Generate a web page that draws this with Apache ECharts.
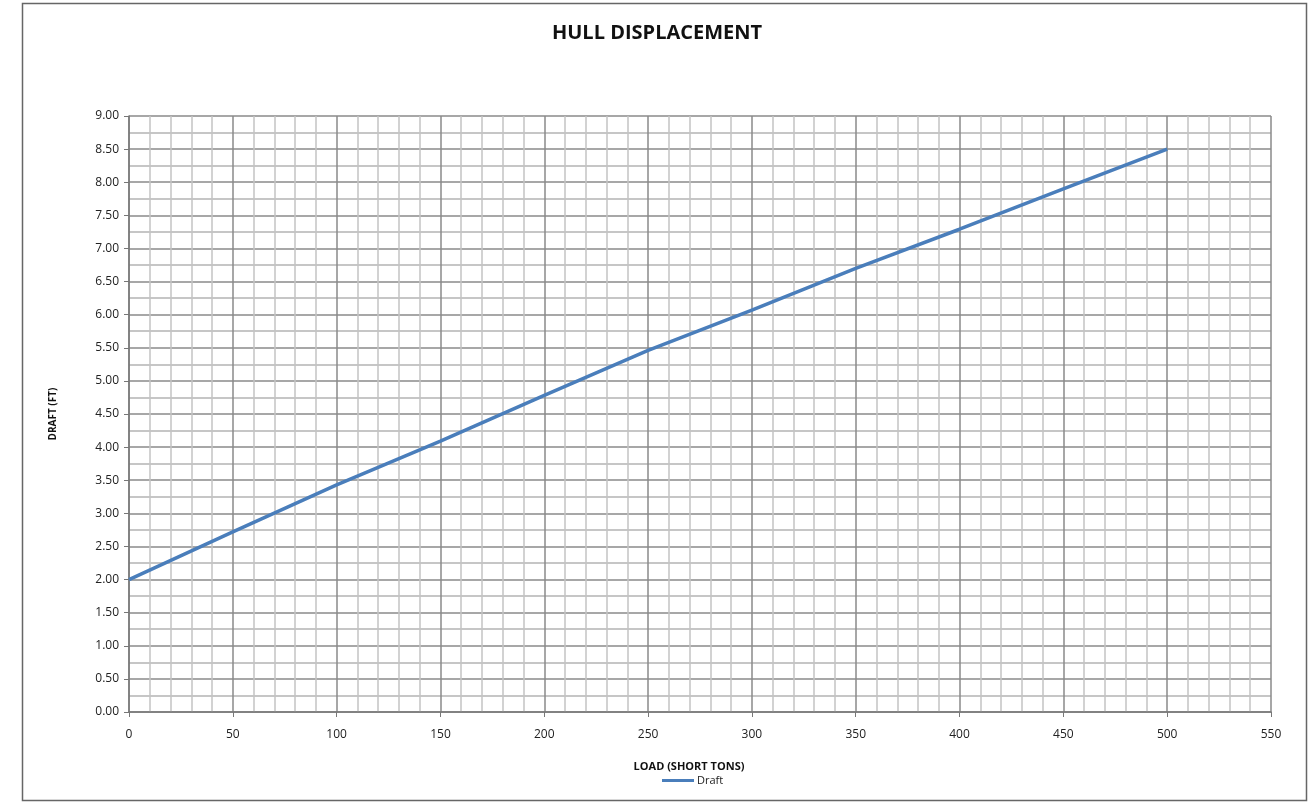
<html>
    <head>
        <meta charset="utf-8">
        <script src='https://cdn.jsdelivr.net/npm/echarts@6/dist/echarts.min.js'></script>
    </head>
    <body>
        <style>
            html, body, #main {
                width: 100%;
                height: 100%;
                margin: 0;
                background: #fff;
            }
        </style>
        <div id='main'></div>
        <script>
            // load (short tons) vs draft (ft)
            var loads = [0, 50, 100, 150, 200, 250, 300, 350, 400, 450, 500];
            var drafts = [2.00, 2.72, 3.43, 4.09, 4.78, 5.46, 6.07, 6.70, 7.29, 7.90, 8.50];

            var chart = echarts.init(document.getElementById('main'));

            var font = '"Open Sans", "Liberation Sans", sans-serif';
            var data = loads.map(function (x, i) {
                return [x, drafts[i]];
            });

            var option = {
                backgroundColor: '#fff',
                animation: false,
                title: {
                    text: 'HULL DISPLACEMENT',
                    left: 'center',
                    top: 18,
                    textStyle: {
                        fontFamily: font,
                        fontSize: 20,
                        fontWeight: 'bold',
                        color: '#111'
                    }
                },
                legend: {
                    data: ['Draft'],
                    bottom: 12,
                    left: 657,
                    itemWidth: 32,
                    itemHeight: 3,
                    icon: 'rect',
                    itemGap: 4,
                    textStyle: {
                        fontFamily: font,
                        fontSize: 11,
                        color: '#222',
                        padding: [0, 0, 0, -2]
                    }
                },
                graphic: [{
                    type: 'rect',
                    shape: { x: 22.5, y: 3.5, width: 1284, height: 797 },
                    style: { fill: null, stroke: '#666', lineWidth: 1.5 },
                    silent: true
                }],
                grid: {
                    left: 129,
                    top: 116,
                    right: 43,
                    bottom: 91
                },
                xAxis: {
                    type: 'value',
                    min: 0,
                    max: 550,
                    interval: 50,
                    name: 'LOAD (SHORT TONS)',
                    nameLocation: 'middle',
                    nameGap: 49,
                    nameTextStyle: {
                        fontFamily: font,
                        fontSize: 11,
                        fontWeight: 'bold',
                        color: '#111',
                        padding: [0, 22, 0, 0]
                    },
                    axisLine: { lineStyle: { color: '#777', width: 1.5 } },
                    axisTick: { show: true, length: 5, lineStyle: { color: '#777' } },
                    axisLabel: {
                        margin: 17,
                        fontFamily: font,
                        fontSize: 12,
                        color: '#222'
                    },
                    splitLine: { lineStyle: { color: '#8a8a8a', width: 1.5 } },
                    minorTick: { show: false, splitNumber: 5 },
                    minorSplitLine: { show: true, lineStyle: { color: '#c4c4c4', width: 1.5 } }
                },
                yAxis: {
                    type: 'value',
                    min: 0,
                    max: 9,
                    interval: 0.5,
                    name: 'DRAFT (FT)',
                    nameLocation: 'middle',
                    nameGap: 71,
                    nameTextStyle: {
                        fontFamily: font,
                        fontSize: 10,
                        fontWeight: 'bold',
                        color: '#111'
                    },
                    axisLine: { show: true, lineStyle: { color: '#777', width: 1.5 } },
                    axisTick: { show: true, length: 5, lineStyle: { color: '#777' } },
                    axisLabel: {
                        margin: 10,
                        fontFamily: font,
                        fontSize: 12,
                        color: '#222',
                        formatter: function (v) { return v.toFixed(2); }
                    },
                    splitLine: { lineStyle: { color: '#8a8a8a', width: 1.5 } },
                    minorTick: { show: false, splitNumber: 2 },
                    minorSplitLine: { show: true, lineStyle: { color: '#b4b4b4', width: 1.5 } }
                },
                series: [{
                    name: 'Draft',
                    type: 'line',
                    data: data,
                    showSymbol: false,
                    symbol: 'none',
                    color: '#4a7ebb',
                    lineStyle: { color: '#4a7ebb', width: 3.5 }
                }]
            };

            chart.setOption(option);

            window.onresize = function () {
                chart.resize();
            }
        </script>
    </body>
</html>
